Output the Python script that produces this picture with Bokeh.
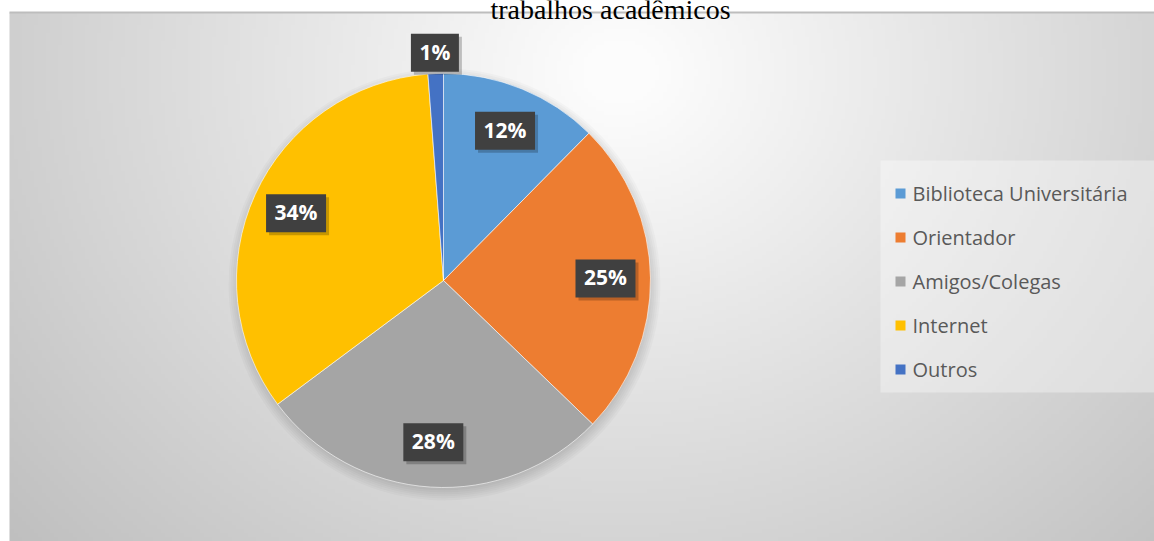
import numpy as np
from bokeh.plotting import figure
from bokeh.models import Range1d
from bokeh.core.properties import value
from bokeh.embed import file_html
from bokeh.resources import INLINE

# ---- data ----
categories = ["Biblioteca Universitária", "Orientador", "Amigos/Colegas", "Internet", "Outros"]
shares = [12.4, 24.8, 27.6, 34.0, 1.2]
labels = ["12%", "25%", "28%", "34%", "1%"]
colors = ["#5B9BD5", "#ED7D31", "#A5A5A5", "#FFC000", "#4472C4"]
title_text = "trabalhos acadêmicos"

# ---- layout (reference pixel coordinates, y flipped into data space) ----
W, H = 1154, 541
REF_H = 541
def fy(ref_y):
    return REF_H - ref_y

p = figure(width=W, height=H, x_range=Range1d(0, W), y_range=Range1d(0, H),
           output_backend="svg", toolbar_location=None, min_border=0)
p.axis.visible = False
p.xgrid.visible = False
p.ygrid.visible = False
p.outline_line_color = None
p.background_fill_color = "white"
p.border_fill_color = "white"

# ---- radial gradient background of the chart area ----
ax0, ax1 = 9, W
ay_top, ay_bot = 12, H
nx, ny = 289, 133
xs = np.linspace(ax0, ax1, nx)
ys_ref = np.linspace(ay_bot, ay_top, ny)  # rows from bottom to top
XX, YY = np.meshgrid(xs, ys_ref)
dist = np.sqrt(((XX - 620) * 1.0) ** 2 + ((YY - 70) * 1.15) ** 2)
g = np.clip(255 - 0.078 * dist, 185, 252).astype(np.uint8)
img = np.empty((ny, nx), dtype=np.uint32)
view = img.view(dtype=np.uint8).reshape((ny, nx, 4))
view[..., 0] = g
view[..., 1] = g
view[..., 2] = g
view[..., 3] = 255
p.image_rgba(image=[img], x=ax0, y=fy(ay_bot), dw=ax1 - ax0, dh=ay_bot - ay_top)

# top border of chart area
p.segment(x0=[ax0], y0=[fy(ay_top)], x1=[ax1], y1=[fy(ay_top)], line_color="#bdbdbd", line_width=2)

# ---- title (its upper part is cut off, as in the reference) ----
p.text(x=[610], y=[fy(9)], text=[title_text], text_font=value("Liberation Serif"),
       text_font_size="28px", text_align="center", text_baseline="alphabetic", text_color="black")

# ---- pie ----
cx, cy, R = 443, fy(280), 207
vals = np.array(shares, dtype=float)
frac = vals / vals.sum()
cum = np.concatenate([[0.0], np.cumsum(frac)])
starts = np.pi / 2 - 2 * np.pi * cum[:-1]
ends = np.pi / 2 - 2 * np.pi * cum[1:]

# soft shadow
for k in range(7):
    p.circle(x=[cx + 1], y=[cy - 4], radius=R - 3 + 2 * k, fill_color="black",
             fill_alpha=0.022, line_color=None)

p.wedge(x=cx, y=cy, radius=R, start_angle=starts, end_angle=ends, direction="clock",
        fill_color=colors, line_color="white", line_width=0.6)

# ---- data labels ----
mid = (cum[:-1] + cum[1:]) / 2
theta = np.pi / 2 - 2 * np.pi * mid
lr = np.where(frac < 0.03, R + 21, 162)
lx = cx + lr * np.cos(theta)
ly = cy + lr * np.sin(theta)
bw = [12 * len(s) + 24 for s in labels]

p.rect(x=lx + 3, y=ly - 3, width=bw, height=38, width_units="screen", height_units="screen",
       fill_color="black", fill_alpha=0.22, line_color=None)
p.rect(x=lx, y=ly, width=bw, height=38, width_units="screen", height_units="screen",
       fill_color="#404040", line_color=None)
p.text(x=lx, y=ly + 1, text=labels, text_font=value("Open Sans"), text_font_style="bold",
       text_font_size="21px", text_align="center", text_baseline="middle", text_color="white")

# ---- legend ----
p.quad(left=[880], right=[ax1], top=[fy(160)], bottom=[fy(392)], fill_color="white",
       fill_alpha=0.35, line_color=None)
leg_y = [fy(193 + 44 * i) for i in range(len(categories))]
p.rect(x=[900] * len(categories), y=leg_y, width=10, height=10, width_units="screen",
       height_units="screen", fill_color=colors, line_color=None)
p.text(x=[912] * len(categories), y=leg_y, text=categories, text_font=value("Open Sans"),
       text_font_size="20px", text_align="left", text_baseline="middle", text_color="#595959")

open("out.html", "w").write(file_html(p, INLINE))
